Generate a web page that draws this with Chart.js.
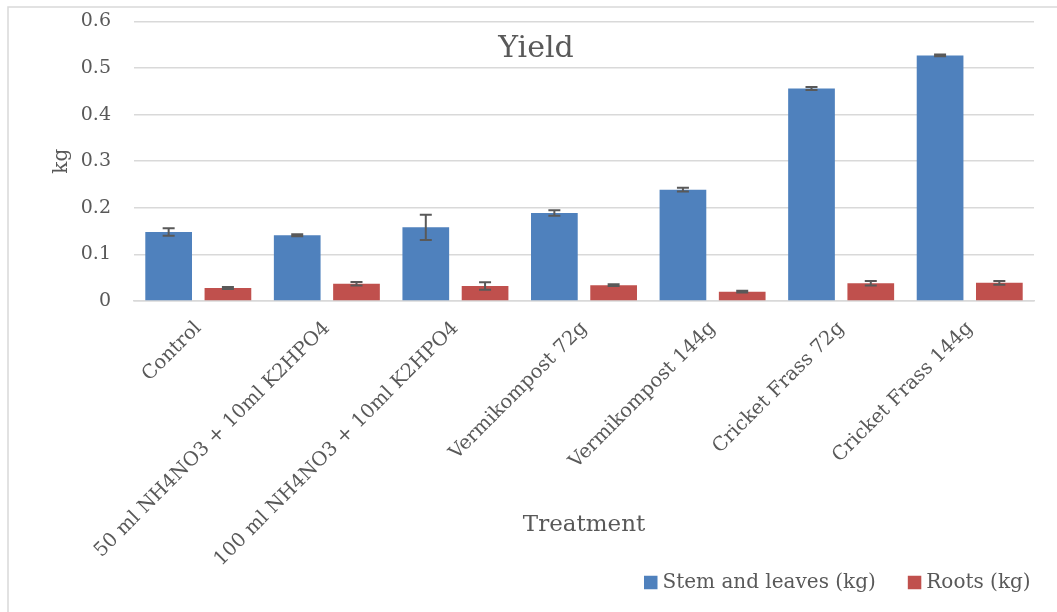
<!DOCTYPE html>
<html>
<head>
<meta charset="utf-8">
<script src="https://cdn.jsdelivr.net/npm/chart.js@4/dist/chart.umd.min.js"></script>
<style>
  html, body { margin: 0; padding: 0; background: #ffffff; }
  #wrap { width: 1057px; height: 612px; position: relative; }
</style>
</head>
<body>
<div id="wrap"><canvas id="yieldChart"></canvas></div>
<script>
// Treatments on the x axis
const categories = [
  "Control",
  "50 ml NH4NO3 + 10ml K2HPO4",
  "100 ml NH4NO3 + 10ml K2HPO4",
  "Vermikompost 72g",
  "Vermikompost 144g",
  "Cricket Frass 72g",
  "Cricket Frass 144g"
];

// Stem and leaves (kg), with error bar half-widths
const stemLeaves = [0.148, 0.141, 0.158, 0.189, 0.239, 0.456, 0.527];
const stemErr = [0.008, 0.002, 0.027, 0.006, 0.004, 0.003, 0.002];

// Roots (kg), with error bar half-widths
const roots = [0.028, 0.037, 0.032, 0.034, 0.020, 0.038, 0.039];
const rootsErr = [0.002, 0.004, 0.008, 0.002, 0.002, 0.005, 0.004];

const seriesErrors = [stemErr, rootsErr];

const textColor = "#595959";
const gridColor = "#d9d9d9";
const serif = "'DejaVu Serif', 'Liberation Serif', serif";

// Outer chart frame, like the Office chart border
const framePlugin = {
  id: "frame",
  beforeDraw(chart) {
    const ctx = chart.ctx;
    ctx.save();
    ctx.strokeStyle = gridColor;
    ctx.lineWidth = 1.5;
    ctx.strokeRect(8, 7, chart.width + 20, chart.height + 20);
    ctx.restore();
  }
};

// Draws the error bars from the values through the y scale
const errorBarPlugin = {
  id: "errorBars",
  afterDatasetsDraw(chart) {
    const ctx = chart.ctx;
    const yScale = chart.scales.y;
    ctx.save();
    ctx.strokeStyle = "#595959";
    ctx.lineWidth = 2;
    chart.data.datasets.forEach((ds, i) => {
      const meta = chart.getDatasetMeta(i);
      const errs = seriesErrors[i];
      meta.data.forEach((bar, j) => {
        const v = ds.data[j];
        const e = errs[j];
        const yTop = yScale.getPixelForValue(v + e);
        const yBot = yScale.getPixelForValue(v - e);
        const half = 6;
        ctx.beginPath();
        ctx.moveTo(bar.x, yTop);
        ctx.lineTo(bar.x, yBot);
        ctx.moveTo(bar.x - half, yTop);
        ctx.lineTo(bar.x + half, yTop);
        ctx.moveTo(bar.x - half, yBot);
        ctx.lineTo(bar.x + half, yBot);
        ctx.stroke();
      });
    });
    ctx.restore();
  }
};

// Title inside the plot area, legend in the bottom right corner
const annotationsPlugin = {
  id: "annotations",
  afterDraw(chart) {
    const ctx = chart.ctx;
    const area = chart.chartArea;
    ctx.save();
    ctx.fillStyle = textColor;
    ctx.textBaseline = "middle";

    ctx.font = "30px " + serif;
    ctx.textAlign = "center";
    ctx.fillText("Yield", 536, area.top + 28);

    // legend, laid out left to right from the dataset labels
    ctx.font = "20px " + serif;
    ctx.textAlign = "left";
    const legendY = 582.5;
    const box = 13.5;
    let x = 644;
    chart.data.datasets.forEach((ds) => {
      ctx.fillStyle = ds.backgroundColor;
      ctx.fillRect(x, legendY - box / 2, box, box);
      ctx.fillStyle = textColor;
      ctx.fillText(ds.label, x + box + 5, legendY);
      x += box + 5 + ctx.measureText(ds.label).width + 32;
    });
    ctx.restore();
  }
};

new Chart(document.getElementById("yieldChart"), {
  type: "bar",
  data: {
    labels: categories,
    datasets: [
      {
        label: "Stem and leaves (kg)",
        data: stemLeaves,
        backgroundColor: "#4f81bd",
        categoryPercentage: 0.922,
        barPercentage: 0.788
      },
      {
        label: "Roots (kg)",
        data: roots,
        backgroundColor: "#c0504d",
        categoryPercentage: 0.922,
        barPercentage: 0.788
      }
    ]
  },
  options: {
    responsive: true,
    maintainAspectRatio: false,
    animation: false,
    layout: { padding: { left: 8, right: 0, top: 0, bottom: 8 } },
    plugins: {
      title: { display: false },
      tooltip: { enabled: false },
      legend: { display: false }
    },
    scales: {
      x: {
        grid: { display: false, drawTicks: false },
        border: { color: gridColor, width: 1.5 },
        ticks: {
          color: textColor,
          font: { family: serif, size: 19.5 },
          minRotation: 45,
          maxRotation: 45,
          padding: 16
        },
        title: {
          display: true,
          text: "Treatment",
          color: textColor,
          font: { family: serif, size: 23 },
          padding: { top: 0, bottom: 65 }
        },
        afterFit(scale) { scale.height = 303; }
      },
      y: {
        min: 0,
        max: 0.6,
        ticks: {
          stepSize: 0.1,
          color: textColor,
          font: { family: serif, size: 19 },
          padding: 10
        },
        grid: {
          color: gridColor,
          lineWidth: 1.5,
          drawTicks: true,
          tickLength: 13,
          tickColor: "rgba(0,0,0,0)"
        },
        border: { display: false },
        title: {
          display: true,
          text: "kg",
          color: textColor,
          font: { family: serif, size: 20 },
          padding: { top: 42, bottom: 0 }
        },
        afterFit(scale) { scale.width = 126; }
      },
      // empty right margin so the plot ends where the original does
      rightSpace: {
        type: "linear",
        position: "right",
        display: true,
        ticks: { display: false },
        grid: { display: false, drawTicks: false },
        border: { display: false },
        afterFit(scale) { scale.width = 23; }
      }
    }
  },
  plugins: [framePlugin, errorBarPlugin, annotationsPlugin]
});
</script>
</body>
</html>
